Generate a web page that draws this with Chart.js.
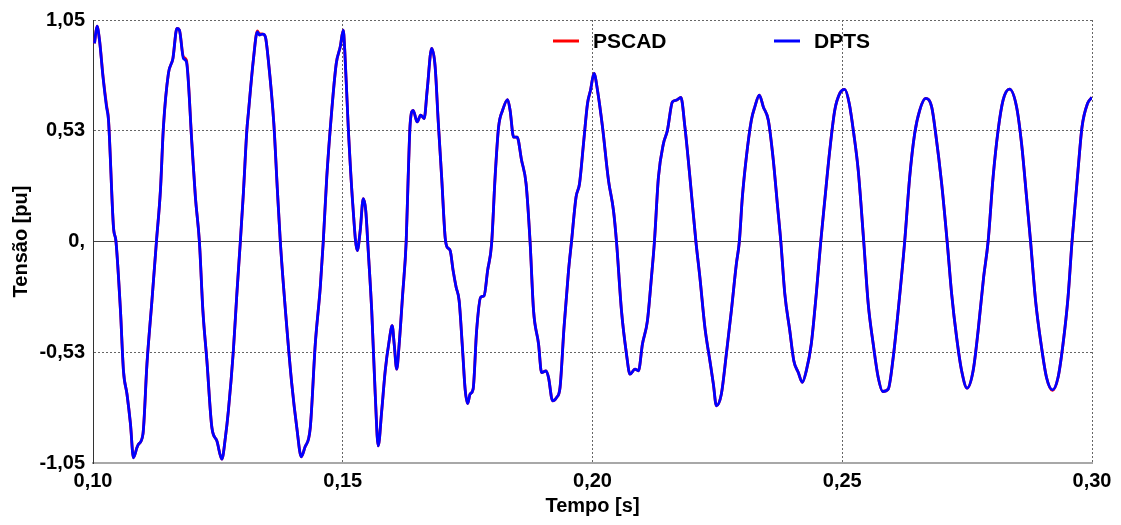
<!DOCTYPE html>
<html lang="pt">
<head>
    <meta charset="UTF-8">
    <title>Tensão - PSCAD x DPTS</title>
    <script src="https://cdn.jsdelivr.net/npm/chart.js"></script>
    <style>
        body { margin: 0; background: #fff; }
    </style>
</head>
<body>
    <canvas id="voltageChart" width="1121" height="525"></canvas>

    <script>
        // Tempo [s]
        const time = [
            0.1003, 0.1008, 0.1013, 0.1020, 0.1027, 0.1031, 0.1041, 0.1046, 0.1055, 0.1061,
            0.1068, 0.1075, 0.1081, 0.1088, 0.1091, 0.1100, 0.1108, 0.1118, 0.1127, 0.1135,
            0.1141, 0.1151, 0.1160, 0.1168, 0.1173, 0.1181, 0.1187, 0.1198, 0.1205, 0.1213,
            0.1220, 0.1228, 0.1238, 0.1248, 0.1258, 0.1265, 0.1271, 0.1281, 0.1288, 0.1295,
            0.1301, 0.1308, 0.1311, 0.1321, 0.1329, 0.1333, 0.1340, 0.1345, 0.1351, 0.1362,
            0.1369, 0.1375, 0.1388, 0.1398, 0.1408, 0.1417, 0.1424, 0.1435, 0.1445, 0.1455,
            0.1461, 0.1468, 0.1478, 0.1487, 0.1495, 0.1501, 0.1504, 0.1511, 0.1520, 0.1529,
            0.1535, 0.1541, 0.1546, 0.1551, 0.1558, 0.1565, 0.1571, 0.1578, 0.1585, 0.1593,
            0.1599, 0.1603, 0.1608, 0.1613, 0.1620, 0.1627, 0.1631, 0.1635, 0.1641, 0.1649,
            0.1656, 0.1663, 0.1669, 0.1678, 0.1685, 0.1691, 0.1698, 0.1705, 0.1709, 0.1715,
            0.1721, 0.1727, 0.1733, 0.1740, 0.1745, 0.1750, 0.1755, 0.1761, 0.1768, 0.1776,
            0.1783, 0.1790, 0.1798, 0.1805, 0.1812, 0.1820, 0.1830, 0.1835, 0.1842, 0.1849,
            0.1858, 0.1867, 0.1875, 0.1882, 0.1892, 0.1898, 0.1907, 0.1912, 0.1920, 0.1928,
            0.1935, 0.1943, 0.1952, 0.1958, 0.1967, 0.1974, 0.1982, 0.1990, 0.1996, 0.2003,
            0.2010, 0.2020, 0.2032, 0.2042, 0.2048, 0.2058, 0.2068, 0.2075, 0.2085, 0.2092,
            0.2100, 0.2110, 0.2118, 0.2124, 0.2132, 0.2142, 0.2150, 0.2160, 0.2168, 0.2177,
            0.2185, 0.2195, 0.2207, 0.2215, 0.2225, 0.2235, 0.2242, 0.2248, 0.2258, 0.2268,
            0.2278, 0.2288, 0.2294, 0.2300, 0.2308, 0.2318, 0.2325, 0.2334, 0.2342, 0.2352,
            0.2362, 0.2370, 0.2377, 0.2385, 0.2395, 0.2403, 0.2412, 0.2420, 0.2428, 0.2438,
            0.2448, 0.2457, 0.2465, 0.2475, 0.2485, 0.2495, 0.2505, 0.2514, 0.2523, 0.2532,
            0.2543, 0.2552, 0.2562, 0.2572, 0.2581, 0.2592, 0.2602, 0.2612, 0.2625, 0.2635,
            0.2645, 0.2655, 0.2667, 0.2679, 0.2687, 0.2699, 0.2710, 0.2719, 0.2729, 0.2739,
            0.2750, 0.2762, 0.2772, 0.2783, 0.2792, 0.2802, 0.2812, 0.2822, 0.2835, 0.2849,
            0.2859, 0.2869, 0.2877, 0.2887, 0.2899, 0.2909, 0.2921, 0.2932, 0.2942, 0.2952,
            0.2960, 0.2972, 0.2980, 0.2991, 0.3000
        ];

        // Tensão [pu] - DPTS
        const dpts = [
            0.939, 1.021, 0.955, 0.780, 0.638, 0.575, 0.068, 0.000, -0.328, -0.613,
            -0.723, -0.865, -1.025, -0.977, -0.961, -0.913, -0.581, -0.280, 0.000, 0.242,
            0.543, 0.797, 0.868, 1.010, 1.002, 0.868, 0.852, 0.464, 0.210, 0.000,
            -0.328, -0.565, -0.882, -0.945, -1.032, -0.930, -0.803, -0.518, -0.248, 0.000,
            0.227, 0.527, 0.607, 0.860, 0.994, 0.979, 0.983, 0.971, 0.860, 0.560,
            0.250, 0.000, -0.407, -0.676, -0.882, -1.021, -0.977, -0.882, -0.486, -0.217,
            0.000, 0.305, 0.622, 0.844, 0.923, 1.002, 0.907, 0.543, 0.179, -0.043,
            0.052, 0.203, 0.147, -0.043, -0.328, -0.723, -0.969, -0.803, -0.613, -0.470,
            -0.399, -0.486, -0.605, -0.486, -0.248, 0.000, 0.305, 0.559, 0.622, 0.567,
            0.599, 0.583, 0.717, 0.915, 0.828, 0.575, 0.305, 0.020, -0.027, -0.043,
            -0.138, -0.217, -0.280, -0.518, -0.700, -0.768, -0.723, -0.700, -0.423, -0.265,
            -0.257, -0.138, -0.011, 0.305, 0.543, 0.622, 0.673, 0.622, 0.495, 0.495,
            0.385, 0.274, 0.000, -0.328, -0.486, -0.621, -0.613, -0.645, -0.755, -0.740,
            -0.692, -0.407, -0.138, 0.000, 0.210, 0.274, 0.464, 0.654, 0.717, 0.797,
            0.717, 0.543, 0.290, 0.147, 0.000, -0.328, -0.533, -0.629, -0.605, -0.613,
            -0.486, -0.375, -0.170, 0.000, 0.305, 0.464, 0.527, 0.662, 0.670, 0.683,
            0.543, 0.305, 0.000, -0.170, -0.407, -0.565, -0.676, -0.779, -0.723, -0.533,
            -0.328, -0.106, 0.000, 0.210, 0.400, 0.575, 0.638, 0.694, 0.638, 0.575,
            0.385, 0.179, 0.000, -0.248, -0.423, -0.565, -0.621, -0.668, -0.613, -0.486,
            -0.248, 0.000, 0.195, 0.432, 0.622, 0.702, 0.721, 0.654, 0.512, 0.337,
            0.000, -0.296, -0.486, -0.645, -0.711, -0.700, -0.550, -0.328, 0.000, 0.305,
            0.512, 0.622, 0.678, 0.638, 0.512, 0.274, 0.000, -0.248, -0.455, -0.613,
            -0.695, -0.613, -0.423, -0.170, 0.000, 0.305, 0.527, 0.670, 0.722, 0.638,
            0.464, 0.210, 0.000, -0.280, -0.502, -0.645, -0.703, -0.645, -0.486, -0.265,
            0.000, 0.337, 0.543, 0.654, 0.683
        ];

        // Tensão [pu] - PSCAD (quase idêntica à DPTS)
        const pscad = [
            0.939, 1.021, 0.955, 0.785, 0.648, 0.580, 0.068, 0.000, -0.328, -0.613,
            -0.723, -0.865, -1.025, -0.977, -0.961, -0.913, -0.581, -0.280, 0.000, 0.242,
            0.543, 0.797, 0.868, 1.010, 1.002, 0.875, 0.860, 0.464, 0.210, 0.000,
            -0.328, -0.565, -0.882, -0.945, -1.032, -0.930, -0.803, -0.518, -0.248, 0.000,
            0.227, 0.527, 0.607, 0.860, 0.998, 0.985, 0.983, 0.971, 0.860, 0.560,
            0.250, 0.000, -0.407, -0.676, -0.882, -1.021, -0.977, -0.882, -0.486, -0.217,
            0.000, 0.305, 0.622, 0.844, 0.923, 1.002, 0.907, 0.543, 0.179, -0.043,
            0.052, 0.203, 0.147, -0.043, -0.328, -0.723, -0.969, -0.803, -0.613, -0.470,
            -0.399, -0.486, -0.605, -0.486, -0.248, 0.000, 0.305, 0.559, 0.622, 0.567,
            0.599, 0.583, 0.717, 0.915, 0.828, 0.575, 0.305, 0.020, -0.027, -0.043,
            -0.138, -0.217, -0.280, -0.518, -0.700, -0.768, -0.723, -0.700, -0.423, -0.265,
            -0.257, -0.138, -0.011, 0.305, 0.543, 0.622, 0.673, 0.622, 0.495, 0.495,
            0.385, 0.274, 0.000, -0.328, -0.486, -0.621, -0.613, -0.645, -0.755, -0.740,
            -0.692, -0.407, -0.138, 0.000, 0.210, 0.274, 0.464, 0.654, 0.717, 0.797,
            0.717, 0.543, 0.290, 0.147, 0.000, -0.328, -0.533, -0.629, -0.605, -0.613,
            -0.486, -0.375, -0.170, 0.000, 0.305, 0.464, 0.527, 0.662, 0.670, 0.683,
            0.543, 0.305, 0.000, -0.170, -0.407, -0.565, -0.676, -0.779, -0.723, -0.533,
            -0.328, -0.106, 0.000, 0.210, 0.400, 0.575, 0.638, 0.694, 0.638, 0.575,
            0.385, 0.179, 0.000, -0.248, -0.423, -0.565, -0.621, -0.668, -0.613, -0.486,
            -0.248, 0.000, 0.195, 0.432, 0.622, 0.702, 0.721, 0.654, 0.512, 0.337,
            0.000, -0.296, -0.486, -0.645, -0.711, -0.700, -0.550, -0.328, 0.000, 0.305,
            0.512, 0.622, 0.678, 0.638, 0.512, 0.274, 0.000, -0.248, -0.455, -0.613,
            -0.695, -0.613, -0.423, -0.170, 0.000, 0.305, 0.527, 0.670, 0.722, 0.638,
            0.464, 0.210, 0.000, -0.280, -0.502, -0.645, -0.706, -0.645, -0.486, -0.265,
            0.000, 0.337, 0.543, 0.654, 0.683
        ];

        // Marcas dos eixos
        const xTicks = [0.10, 0.15, 0.20, 0.25, 0.30];
        const xTickLabels = ['0,10', '0,15', '0,20', '0,25', '0,30'];
        const yTicks = [-1.05, -0.525, 0, 0.525, 1.05];
        const yTickLabels = ['-1,05', '-0,53', '0,', '0,53', '1,05'];

        const FONT = '"Liberation Sans", Arial, sans-serif';

        const toPoints = (ys) => ys.map((y, i) => ({ x: time[i], y: y }));

        // Legenda desenhada dentro da área do gráfico
        const inlineLegend = {
            id: 'inlineLegend',
            afterDatasetsDraw(chart) {
                const { ctx, chartArea } = chart;
                const y = chartArea.top + 21;
                ctx.save();
                ctx.font = 'bold 21px ' + FONT;
                ctx.textBaseline = 'middle';
                ctx.fillStyle = '#000';
                chart.data.datasets.forEach((ds, i) => {
                    const x = chartArea.left + 460 + i * 221;
                    ctx.strokeStyle = ds.borderColor;
                    ctx.lineWidth = 3;
                    ctx.beginPath();
                    ctx.moveTo(x, y);
                    ctx.lineTo(x + 26, y);
                    ctx.stroke();
                    ctx.fillText(ds.label, x + 40, y + 1);
                });
                ctx.restore();
            }
        };

        const ctx = document.getElementById('voltageChart').getContext('2d');
        const voltageChart = new Chart(ctx, {
            type: 'line',
            data: {
                datasets: [{
                    label: 'PSCAD',
                    data: toPoints(pscad),
                    borderColor: '#ff0000',
                    borderWidth: 2.8,
                    pointRadius: 0,
                    cubicInterpolationMode: 'monotone',
                    order: 1
                }, {
                    label: 'DPTS',
                    data: toPoints(dpts),
                    borderColor: '#0000ff',
                    borderWidth: 2.8,
                    pointRadius: 0,
                    cubicInterpolationMode: 'monotone',
                    order: 0
                }]
            },
            options: {
                responsive: false,
                animation: false,
                layout: {
                    padding: { left: 0, right: 29, top: 20, bottom: 0 }
                },
                plugins: {
                    legend: { display: false },
                    tooltip: { enabled: false }
                },
                scales: {
                    x: {
                        type: 'linear',
                        min: 0.10,
                        max: 0.30,
                        afterBuildTicks: (scale) => {
                            scale.ticks = xTicks.map(v => ({ value: v }));
                        },
                        afterFit: (scale) => { scale.height = 62; },
                        ticks: {
                            autoSkip: false,
                            maxRotation: 0,
                            padding: 6,
                            color: '#000',
                            font: { family: FONT, size: 20, weight: 'bold' },
                            callback: (value, index) => xTickLabels[index]
                        },
                        grid: {
                            drawTicks: false,
                            lineWidth: 1,
                            color: (c) => c.tick && c.tick.value === 0.10 ? 'rgba(0,0,0,0)' : '#666666'
                        },
                        border: {
                            color: '#a8a8a8',
                            width: 2,
                            dash: [2, 2]
                        },
                        title: {
                            display: true,
                            text: 'Tempo [s]',
                            color: '#000',
                            font: { family: FONT, size: 20, weight: 'bold' },
                            padding: { top: 0, bottom: 7 }
                        }
                    },
                    y: {
                        min: -1.05,
                        max: 1.05,
                        afterBuildTicks: (scale) => {
                            scale.ticks = yTicks.map(v => ({ value: v }));
                        },
                        afterFit: (scale) => { scale.width = 93; },
                        ticks: {
                            padding: 8,
                            color: '#000',
                            font: { family: FONT, size: 20, weight: 'bold' },
                            callback: (value, index) => yTickLabels[index]
                        },
                        grid: {
                            drawTicks: false,
                            lineWidth: 1,
                            color: (c) => c.tick && c.tick.value === 0 ? '#444444' : '#666666'
                        },
                        border: {
                            color: '#333333',
                            width: 1,
                            dash: (c) => c.tick && c.tick.value === 0 ? [] : [2, 2]
                        },
                        title: {
                            display: true,
                            text: 'Tensão [pu]',
                            color: '#000',
                            font: { family: FONT, size: 20, weight: 'bold' },
                            padding: { top: 9, bottom: 0 }
                        }
                    }
                }
            },
            plugins: [inlineLegend]
        });
    </script>
</body>
</html>
